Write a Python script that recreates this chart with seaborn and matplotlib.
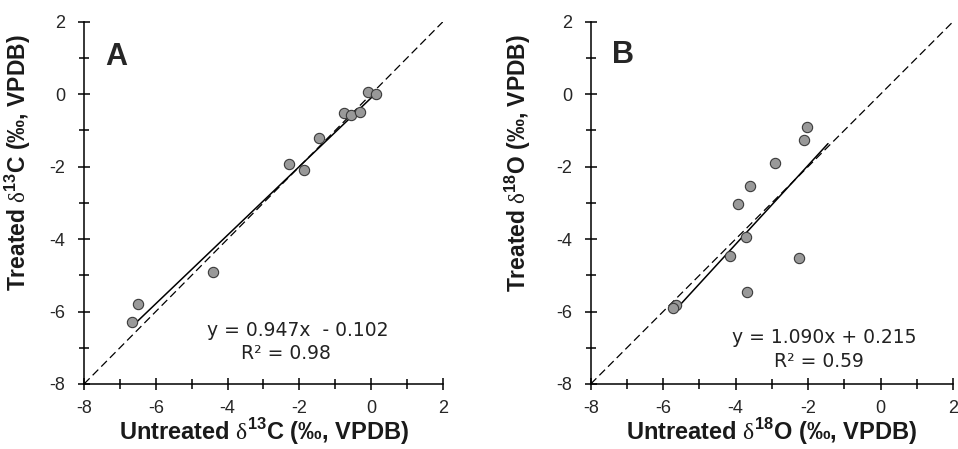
import numpy as np
import pandas as pd
import matplotlib
matplotlib.use('Agg')
import matplotlib.pyplot as plt
from matplotlib.ticker import MultipleLocator
import seaborn as sns

# panel A: carbon
c_untreated = [-0.08, 0.13, -0.76, -0.57, -0.32, -1.45, -2.30, -1.86, -4.40, -6.49, -6.67]
c_treated = [0.06, 0.01, -0.53, -0.58, -0.49, -1.20, -1.93, -2.10, -4.91, -5.80, -6.30]
c_fit = (0.947, -0.102)
c_fit_range = [-6.67, 0.13]

# panel B: oxygen
o_untreated = [-2.04, -2.12, -2.92, -3.61, -3.94, -3.72, -4.16, -2.25, -3.68, -5.65, -5.72]
o_treated = [-0.92, -1.26, -1.90, -2.53, -3.04, -3.94, -4.47, -4.53, -5.46, -5.83, -5.89]
o_fit = (1.090, 0.215)
o_fit_range = [-5.72, -1.45]

sns.set_style('ticks')
plt.rcParams['font.family'] = ['Liberation Sans', 'DejaVu Sans']
plt.rcParams['axes.unicode_minus'] = False
plt.rcParams['mathtext.fontset'] = 'custom'
plt.rcParams['mathtext.rm'] = 'Liberation Serif'
plt.rcParams['mathtext.bf'] = 'Liberation Sans:bold'

fig = plt.figure(figsize=(9.58, 4.49), dpi=100)
ax_a = fig.add_axes([0.0877, 0.1448, 0.3747, 0.8069])
ax_b = fig.add_axes([0.6166, 0.1448, 0.3782, 0.8069])

panels = [
    (ax_a, c_untreated, c_treated, c_fit, c_fit_range, 'A', '13C',
     ['y = 0.947x  - 0.102', 'R\u00b2 = 0.98'], [(-2.05, -6.52), (-2.38, -7.15)], 1.03, -0.142),
    (ax_b, o_untreated, o_treated, o_fit, o_fit_range, 'B', '18O',
     ['y = 1.090x + 0.215', 'R\u00b2 = 0.59'], [(-1.56, -6.72), (-1.71, -7.39)], 1.08, -0.159),
]

for ax, xs, ys, fit, frange, letter, iso, eq, eq_pos, let_y, ylab_x in panels:
    df = pd.DataFrame({'untreated': xs, 'treated': ys})
    # 1:1 line
    ax.axline((0, 0), slope=1, color='black', lw=0.9, ls=(0, (6.4, 3.4)), zorder=1)
    # regression line
    fx = np.array(frange)
    fit_df = pd.DataFrame({'x': fx, 'y': fit[0] * fx + fit[1]})
    sns.lineplot(data=fit_df, x='x', y='y', ax=ax, color='black', lw=1.1, zorder=2)
    sns.scatterplot(data=df, x='untreated', y='treated', ax=ax, s=55,
                    color='#999999', edgecolor='#3a3a3a', linewidth=0.8, zorder=3)

    ax.set_xlim(-8, 2)
    ax.set_ylim(-8, 2)
    ax.xaxis.set_major_locator(MultipleLocator(2))
    ax.yaxis.set_major_locator(MultipleLocator(2))
    ax.xaxis.set_minor_locator(MultipleLocator(1))
    ax.yaxis.set_minor_locator(MultipleLocator(1))
    ax.tick_params(which='major', direction='inout', length=9, width=1.1, color='black')
    ax.tick_params(which='minor', direction='inout', length=6.5, width=1.1, color='black')
    ax.tick_params(axis='x', which='major', labelsize=13, pad=7)
    ax.tick_params(axis='y', which='major', labelsize=13, pad=9)
    for sp in ['top', 'right']:
        ax.spines[sp].set_visible(False)
    for sp in ['left', 'bottom']:
        ax.spines[sp].set_linewidth(1.1)
        ax.spines[sp].set_color('black')

    num, el = iso[:2], iso[2:]
    ax.set_xlabel(r'Untreated $\mathrm{\delta}^{\mathbf{%s}}$%s (‰, VPDB)' % (num, el),
                  fontsize=17, fontweight='bold', color='#1a1a1a')
    ax.set_ylabel(r'Treated $\mathrm{\delta}^{\mathbf{%s}}$%s (‰, VPDB)' % (num, el),
                  fontsize=16.5, fontweight='bold', color='#1a1a1a')
    ax.yaxis.set_label_coords(ylab_x, 0.61)
    ax.xaxis.set_label_coords(0.5, -0.088)

    ax.text(-7.4, let_y, letter, fontsize=22, fontweight='bold', ha='left', va='center')
    for t, (tx, ty) in zip(eq, eq_pos):
        ax.text(tx, ty, t, fontsize=13.5, ha='center', va='center',
                family='DejaVu Sans', color='#222222')

fig.savefig('out.png', dpi=100)
